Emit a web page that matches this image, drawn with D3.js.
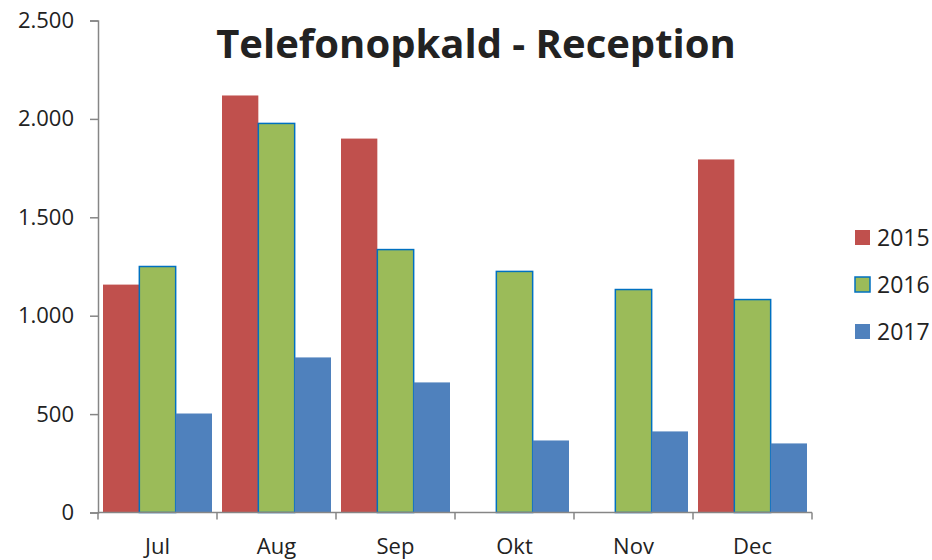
<!DOCTYPE html>
<html>
<head>
<meta charset="utf-8">
<script src="https://cdn.jsdelivr.net/npm/d3@7"></script>
<style>
  body { margin: 0; background: #fff; }
  text { font-family: "Open Sans", "Noto Sans", sans-serif; fill: #222; }
</style>
</head>
<body>
<svg class="chart" width="932" height="560"></svg>
<script>
var months = ['Jul', 'Aug', 'Sep', 'Okt', 'Nov', 'Dec'];
var years = ['2015', '2016', '2017'];
var calls2015 = [1158, 2119, 1900, 0, 0, 1794];
var calls2016 = [1250, 1977, 1336, 1225, 1133, 1082];
var calls2017 = [503, 788, 661, 366, 412, 351];
var yTicks = [0, 500, 1000, 1500, 2000, 2500];
var colors = ['#C0504D', '#9BBB59', '#4F81BD'];

var series = [calls2015, calls2016, calls2017];
var chart = d3.select('.chart');

var x0 = d3.scaleBand().domain(months).range([98, 812]);
var x1 = d3.scaleBand().domain(years).range([5, x0.bandwidth() - 5]);
var y = d3.scaleLinear().domain([0, 2500]).range([512.5, 20.5]);

var locale = d3.formatLocale({decimal: ',', thousands: '.', grouping: [3], currency: ['', '']});
var fmt = locale.format(',');

// bars
var groups = chart.append('g').selectAll('g')
  .data(months)
  .enter().append('g')
  .attr('transform', d => 'translate(' + x0(d) + ',0)');

groups.selectAll('rect')
  .data((m, i) => years.map((yr, j) => ({year: yr, j: j, v: series[j][i]})))
  .enter().append('rect')
  .filter(d => d.v > 0)
  .attr('x', d => x1(d.year))
  .attr('y', d => y(d.v))
  .attr('width', x1.bandwidth())
  .attr('height', d => y(0) - y(d.v))
  .attr('fill', d => colors[d.j])
  .attr('stroke', d => d.j === 1 ? '#0070C0' : 'none')
  .attr('stroke-width', 1.5);

// y axis
var yAxis = chart.append('g')
  .attr('transform', 'translate(98,0)')
  .call(d3.axisLeft(y).tickValues(yTicks).tickFormat(fmt).tickSize(8).tickPadding(16));
yAxis.select('.domain').attr('stroke', '#868686').attr('stroke-width', 1.5);
yAxis.selectAll('.tick line').attr('stroke', '#868686').attr('stroke-width', 1.5);
yAxis.selectAll('text').attr('font-size', 22).attr('fill', '#222')
  .style('font-family', '"Open Sans", sans-serif');

// x axis
var xAxis = chart.append('g')
  .attr('transform', 'translate(0,512.5)');
xAxis.append('line')
  .attr('x1', 98).attr('x2', 812)
  .attr('stroke', '#868686').attr('stroke-width', 1.5);
xAxis.selectAll('.xt')
  .data(months.concat(['end']))
  .enter().append('line')
  .attr('x1', d => d === 'end' ? 812 : x0(d))
  .attr('x2', d => d === 'end' ? 812 : x0(d))
  .attr('y1', 0).attr('y2', 7)
  .attr('stroke', '#868686').attr('stroke-width', 1.5);
xAxis.selectAll('.xl')
  .data(months)
  .enter().append('text')
  .attr('x', d => x0(d) + x0.bandwidth() / 2)
  .attr('y', 41)
  .attr('text-anchor', 'middle')
  .attr('font-size', 22)
  .text(d => d);

// title
chart.append('text')
  .attr('x', 476)
  .attr('y', 58)
  .attr('text-anchor', 'middle')
  .attr('font-size', 40)
  .attr('font-weight', 'bold')
  .attr('fill', '#1a1a1a')
  .text('Telefonopkald - Reception');

// legend
var legend = chart.append('g').selectAll('g')
  .data(years)
  .enter().append('g')
  .attr('transform', (d, i) => 'translate(855,' + (230 + i * 47) + ')');
legend.append('rect')
  .attr('width', 15).attr('height', 15)
  .attr('fill', (d, i) => colors[i])
  .attr('stroke', (d, i) => i === 1 ? '#0070C0' : 'none')
  .attr('stroke-width', 1.5);
legend.append('text')
  .attr('x', 22)
  .attr('y', 16)
  .attr('font-size', 23)
  .text(d => d);
</script>
</body>
</html>
